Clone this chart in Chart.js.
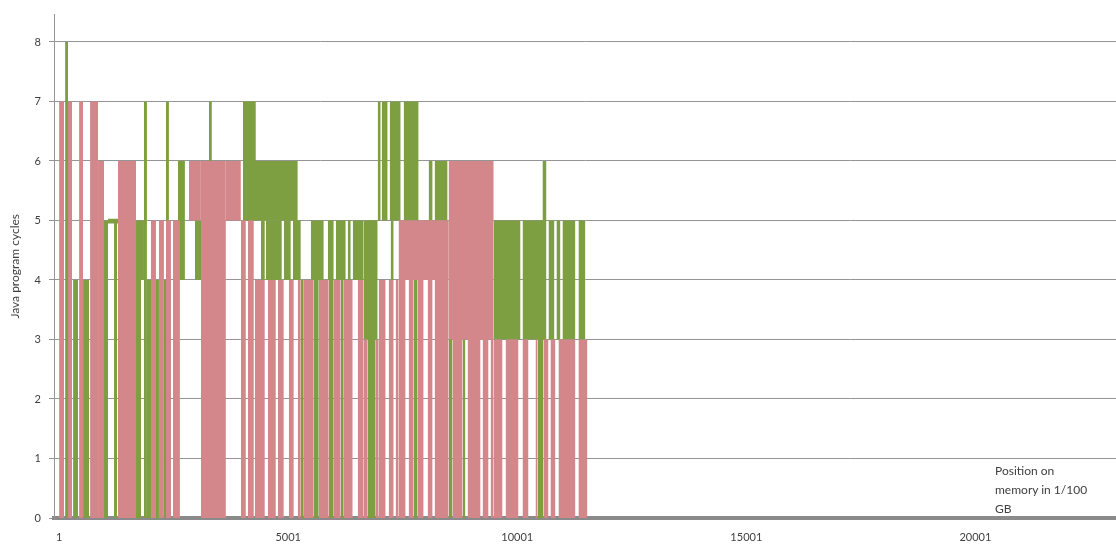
<!DOCTYPE html>
<html>
<head>
<meta charset="utf-8">
<script src="https://cdn.jsdelivr.net/npm/chart.js@4/dist/chart.umd.min.js"></script>
<style>
    body { margin: 0; background: #fff; }
    #wrap { position: relative; width: 1116px; height: 550px; }
    #xTitle {
        position: absolute; left: 995px; top: 461px;
        font: 12px Lato, "Open Sans", sans-serif; color: #404040; line-height: 19px;
    }
</style>
</head>
<body>
<div id="wrap">
    <canvas id="chart" width="1116" height="550"></canvas>
    <div id="xTitle">Position on<br>memory in 1/100<br>GB</div>
</div>
<script>
// x tick labels (memory position)
const xTickValues = [1, 5001, 10001, 15001, 20001];

// each run: [from position, to position, low cycles, high cycles]
const pinkRuns = [
    [1, 110, 0, 7], [197, 284, 0, 7], [437, 524, 0, 7], [677, 851, 0, 7], [851, 982, 0, 6],
    [1287, 1680, 0, 6], [2007, 2116, 0, 5], [2181, 2290, 0, 5], [2334, 2443, 0, 5], [2486, 2639, 0, 5],
    [2835, 3097, 5, 6], [3097, 3642, 0, 6], [3642, 3969, 5, 6], [3969, 4078, 0, 5], [4121, 4252, 0, 5],
    [4274, 4492, 0, 4], [4557, 4732, 0, 4], [4776, 4906, 0, 4], [5015, 5124, 0, 4], [5211, 5277, 0, 4],
    [5342, 5560, 0, 4], [5669, 5887, 0, 4], [5996, 6148, 0, 4], [6214, 6410, 0, 4], [6519, 6650, 0, 4],
    [6650, 6738, 0, 3], [6912, 6977, 0, 3], [6977, 7129, 0, 4], [7195, 7304, 0, 4], [7347, 7413, 0, 4],
    [7413, 8503, 4, 5], [7413, 7565, 0, 5], [7631, 7740, 0, 5], [7827, 7958, 0, 5], [8045, 8154, 0, 5],
    [8198, 8503, 0, 5], [8503, 9484, 3, 6], [8590, 8808, 0, 6], [8917, 9201, 0, 6], [9244, 9375, 0, 6],
    [9419, 9484, 0, 6], [9484, 9680, 0, 3], [9746, 10029, 0, 3], [10116, 10247, 0, 3], [10400, 10443, 0, 3],
    [10574, 10683, 0, 3], [10726, 10835, 0, 3], [10901, 11271, 0, 3], [11337, 11533, 0, 3]
];

const greenRuns = [
    [132, 197, 0, 8], [197, 284, 0, 7], [306, 415, 0, 4], [524, 655, 0, 4], [873, 1069, 0, 5],
    [1069, 1287, 4.95, 5.03], [1200, 1265, 0, 5], [1680, 1789, 0, 5], [1789, 1854, 4, 5], [1854, 1919, 0, 7],
    [1919, 2007, 0, 4], [2116, 2181, 0, 4], [2290, 2443, 0, 4], [2334, 2399, 0, 7], [2595, 2748, 4, 6],
    [2966, 3118, 4, 5], [3271, 3336, 0, 7], [4012, 4296, 5, 7], [4078, 5211, 5, 6], [4405, 4492, 4, 5],
    [4514, 4863, 4, 5], [4906, 5059, 4, 5], [5103, 5277, 4, 5], [5495, 5778, 4, 5], [5866, 5996, 4, 5],
    [6040, 6258, 4, 5], [6301, 6367, 4, 5], [6410, 6650, 4, 5], [5277, 5342, 0, 4], [5560, 5669, 0, 4],
    [5887, 5996, 0, 4], [6148, 6214, 0, 4], [6650, 6955, 3, 5], [6738, 6912, 0, 5], [6955, 7021, 5, 7],
    [7042, 7173, 5, 7], [7217, 7457, 5, 7], [7238, 7304, 4, 5], [7522, 7849, 5, 7], [7740, 7827, 0, 4],
    [8067, 8154, 5, 6], [8198, 8481, 5, 6], [8503, 8590, 0, 5], [8808, 8870, 0, 3], [9484, 10073, 3, 5],
    [10116, 10617, 3, 5], [10443, 10574, 0, 5], [10552, 10639, 3, 6], [10683, 10813, 3, 5], [10857, 10944, 3, 5],
    [10988, 11271, 3, 5], [11337, 11489, 3, 5]
];

const PINK = '#d4878a';
const GREEN = '#7e9f41';

function runSets(runs, color, order) {
    return runs.map(r => ({
        data: [{ x: r[0], y: r[3] }, { x: r[1], y: r[3] }],
        fill: { value: r[2] },
        backgroundColor: color,
        borderColor: color,
        borderWidth: 0,
        pointRadius: 0,
        order: order
    }));
}

const ctx = document.getElementById('chart').getContext('2d');
const tickFont = { family: 'Lato, "Open Sans", sans-serif', size: 11 };

new Chart(ctx, {
    type: 'line',
    data: { datasets: runSets(pinkRuns, PINK, 0).concat(runSets(greenRuns, GREEN, 1)) },
    options: {
        responsive: false,
        animation: false,
        layout: { padding: 0 },
        plugins: { legend: { display: false }, tooltip: { enabled: false } },
        scales: {
            x: {
                type: 'linear',
                min: -110,
                max: 23070,
                grid: { display: false },
                border: { color: '#8a8a8a', width: 4 },
                ticks: {
                    font: tickFont, color: '#404040', maxRotation: 0, autoSkip: false, padding: 5,
                    callback: v => String(v)
                },
                afterBuildTicks: s => { s.ticks = xTickValues.map(v => ({ value: v })); },
                afterFit: s => { s.height = 32; }
            },
            y: {
                min: 0,
                max: 8.46,
                grid: { color: '#959595', tickLength: 5, tickColor: '#959595' },
                border: { color: '#959595', width: 1 },
                ticks: { stepSize: 1, font: tickFont, color: '#404040', padding: 8 },
                afterBuildTicks: s => { s.ticks = s.ticks.filter(t => Number.isInteger(t.value)); },
                title: { display: true, text: 'Java program cycles', font: { family: 'Lato, "Open Sans", sans-serif', size: 12 }, color: '#404040', padding: { top: 8, bottom: 0 } },
                afterFit: s => { s.width = 54; }
            }
        }
    }
});
</script>
</body>
</html>
